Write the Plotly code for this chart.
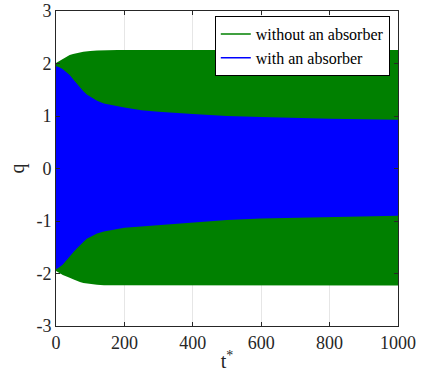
import plotly.graph_objects as go

# Envelope of the oscillating response
t = [0, 10, 20, 30, 40, 50, 60, 70, 80, 90, 100, 120, 140, 160, 180, 200,
     250, 300, 400, 500, 600, 700, 800, 900, 1000]

without_upper = [2.01, 2.05, 2.09, 2.13, 2.16, 2.18, 2.20, 2.21, 2.225, 2.235, 2.24, 2.25,
                 2.255, 2.255, 2.255, 2.255, 2.255, 2.255, 2.255, 2.255, 2.255, 2.255,
                 2.255, 2.255, 2.255]
without_lower = [-1.95, -1.99, -2.03, -2.06, -2.08, -2.11, -2.14, -2.16, -2.18, -2.19, -2.20,
                 -2.215, -2.225, -2.23, -2.23, -2.23, -2.23, -2.23, -2.23, -2.23, -2.23,
                 -2.23, -2.23, -2.23, -2.23]

with_upper = [1.95, 1.93, 1.89, 1.84, 1.78, 1.70, 1.62, 1.53, 1.47, 1.41, 1.37, 1.29,
              1.24, 1.21, 1.18, 1.16, 1.11, 1.08, 1.04, 1.00, 0.98, 0.96, 0.95, 0.94, 0.93]
with_lower = [-1.92, -1.88, -1.83, -1.76, -1.68, -1.60, -1.53, -1.46, -1.40, -1.34, -1.30,
              -1.24, -1.20, -1.17, -1.15, -1.13, -1.10, -1.08, -1.03, -0.98, -0.95, -0.93,
              -0.92, -0.91, -0.90]

series_names = ["without an absorber", "with an absorber"]
series_colors = ["rgb(0,128,0)", "rgb(0,0,255)"]

x_ticks = [0, 200, 400, 600, 800, 1000]
x_ticktext = ["0", "200", "400", "600", "800", "1000"]
y_ticks = [-3, -2, -1, 0, 1, 2, 3]
y_ticktext = ["-3", "-2", "-1", "0", "1", "2", "3"]

FONT = "Liberation Serif"
AX = "#262626"

fig = go.Figure()

bands = [(without_upper, without_lower), (with_upper, with_lower)]
for (up, lo), name, col in zip(bands, series_names, series_colors):
    fig.add_trace(go.Scatter(
        x=t + t[::-1], y=up + lo[::-1], fill="toself", fillcolor=col,
        line=dict(width=0, color=col), mode="lines", showlegend=False,
        hoverinfo="skip"))

for name, col in zip(series_names, series_colors):
    fig.add_trace(go.Scatter(x=[None], y=[None], mode="lines", name=name,
                             line=dict(color=col, width=1.5)))

axis_common = dict(
    showline=True, linecolor=AX, linewidth=1, mirror="ticks",
    ticks="inside", ticklen=4, tickcolor=AX, tickwidth=1,
    tickfont=dict(family=FONT, size=18, color=AX),
    zeroline=False, showgrid=True, gridcolor="#e6e6e6", gridwidth=1,
    automargin=False,
)

fig.update_xaxes(range=[0, 1000], tickvals=x_ticks, ticktext=x_ticktext,
                 title=dict(text="t<sup>*</sup>", font=dict(family=FONT, size=20, color=AX),
                            standoff=2),
                 **axis_common)
fig.update_yaxes(range=[-3, 3], tickvals=y_ticks, ticktext=y_ticktext,
                 title=dict(text="q", font=dict(family=FONT, size=20, color=AX),
                            standoff=6),
                 **axis_common)

fig.update_layout(
    width=424, height=385,
    margin=dict(l=56, r=26, t=11, b=59),
    paper_bgcolor="white", plot_bgcolor="white",
    font=dict(family=FONT, color="black"),
    legend=dict(x=0.976, y=0.984, xanchor="right", yanchor="top",
                bgcolor="white", bordercolor="black", borderwidth=1,
                font=dict(family=FONT, size=16, color="black"),
                itemwidth=30, tracegroupgap=0),
    showlegend=True,
)

fig.write_html("out.html", config={"displayModeBar": False},
               post_script="document.body.style.margin='0px';")
